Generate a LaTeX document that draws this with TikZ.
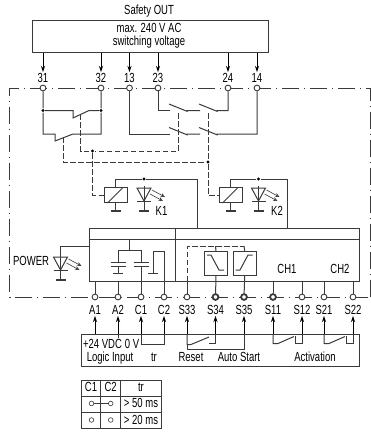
\documentclass[tikz,border=0pt]{standalone}
\usepackage{fontspec}
\setmainfont[FakeStretch=0.72]{Liberation Sans}
\usetikzlibrary{arrows.meta}
\definecolor{ink}{HTML}{3A3A3A}
\tikzset{
  base/.style={x=1pt,y=-1pt,line width=1pt,draw=ink,text=black,font=\fontsize{13.2}{14}\selectfont},
  term/.style={circle,draw=ink,fill=white,minimum size=5.8pt,inner sep=0pt,line width=0.9pt},
  termb/.style={term,line width=1.8pt,minimum size=5.8pt},
  jn/.style={circle,fill=black,inner sep=0pt,minimum size=3.4pt},
  lab/.style={inner sep=0pt,text height=9.5pt,text depth=0pt,outer sep=1pt},
  txt/.style={inner sep=0pt,text height=9.5pt,text depth=2pt},
  arr/.style={-{Stealth[length=6.5pt,width=4.2pt]},draw=black},
  dsh/.style={dash pattern=on 5.5pt off 2.5pt},
  encl/.style={dash pattern=on 17pt off 5pt on 1pt off 5pt,draw=ink},
  gnd/.style={line width=1.6pt},
  box/.style={draw=ink,inner sep=0pt,anchor=north west},
  led/.pic={
    \draw (-7,0) -- (7,0) -- (0,13) -- cycle;
    \draw (-7,13) -- (7,13);
    \draw (0,-2) -- (0,23);
    \draw[gnd] (-5,23) -- (5,23);
    \draw[line width=0.6pt,-{Stealth[open,length=4.5pt,width=4pt]}] (8,2) -- (21,9);
    \draw[line width=0.6pt,-{Stealth[open,length=4.5pt,width=4pt]}] (6,6) -- (19,13);
  }
}
\begin{document}
\begin{tikzpicture}[base]
\useasboundingbox (0,0) rectangle (371,432);
% enclosure
\draw[encl] (370,297) -- (370,88) -- (9.5,88) -- (9.5,297) -- cycle;
% top box
\node[box,minimum width=236pt,minimum height=31.5pt] (outbox) at (32,20) {};
\node[txt] (tsafe) at (149,11) {Safety OUT};
\node[txt] (tmax) at (149,29) {max. 240 V AC};
\node[txt] (tsw) at (149,42) {switching voltage};
% upper terminals
\foreach \n/\x in {31/43,32/101,13/129.5,23/158,24/228,14/257}{
  \node[term] (t\n) at (\x,88) {};
  \node[lab] (l\n) at (\x,78) {\n};
  \draw[arr] (outbox.south -| t\n) -- (l\n.north);
}
% left contacts
\node[jn] (j31) at (43,110.5) {};
\node[jn] (j32) at (101,110.5) {};
\coordinate (c1a) at (73,110.5);
\coordinate (c1b) at (73,118);
\coordinate (c1c) at (89,110.5);
\coordinate (c2a) at (55,134);
\coordinate (c2b) at (55,141);
\coordinate (c2c) at (73,134);
\coordinate (c31b) at (43,134);
\coordinate (c32b) at (101,134);
\draw (t31) -- (j31) -- (c31b) -- (c2a) -- (c2b) -- (c2c) -- (c32b) -- (j32) -- (t32);
\draw (j31) -- (c1a) -- (c1b) -- (c1c) -- (j32);
% right contacts
\foreach \top/\bot/\y in {23/24/110.5,13/14/134}{
  \draw (t\top) |- (170,\y);
  \draw (169,\y-6.5) -- (187,\y+0.8) -- (187,\y) -- (200,\y);
  \draw (199,\y-6.5) -- (217,\y+0.8) -- (217,\y) -| (t\bot);
}
% dashed actuators
\node[jn] (d1) at (92.5,151) {};
\node[jn] (d2) at (208,162) {};
\coordinate (a1) at (80.7,114);
\coordinate (a2) at (178,113);
\coordinate (a3) at (63,137);
\coordinate (a4) at (208,113);
\draw[dsh] (a1) |- (d1);
\draw[dsh] (a2) |- (d1);
\draw[dsh] (a3) |- (d2);
\draw[dsh] (a4) -- (d2);
% coils
\node[box,minimum width=23.5pt,minimum height=15pt] (k1) at (103.5,187) {};
\node[box,minimum width=23.5pt,minimum height=15pt] (k2) at (218.5,187) {};
\draw[dsh] (d1) |- (k1.west |- 0,195);
\draw[dsh] (d2) |- (k2.west |- 0,195);
\foreach \k in {k1,k2}{
  \draw (\k.south west) ++(4,0) -- ++(15,-15);
  \draw (\k.south) -- ++(0,8);
  \draw[gnd] (\k.south) ++(-5,8) -- ++(10,0);
}
% LEDs
\pic at (144,188) {led};
\pic at (258.5,188) {led};
\node[jn] (jk1) at (144,179) {};
\node[jn] (jk2) at (258.5,179) {};
\node[lab] (tk1) at (161.5,211) {K1};
\node[lab] (tk2) at (277,211) {K2};
% main block
\node[box,minimum width=270pt,minimum height=52.6pt] (main) at (89,228) {};
\coordinate (bar1) at (89,239);
\coordinate (bar2) at (359,239);
\draw (bar1) -- (bar2);
\coordinate (div1) at (175.5,228);
\coordinate (div2) at (175.5,280.6);
\draw (div1) -- (div2);
\draw (k1.north) |- (jk1) -- (197,179) -- (197,228);
\draw (k2.north) |- (jk2) -- (287,179) -- (287,228);
% POWER led
\pic at (60.5,257) {led};
\draw (89,246) -| (60.5,256);
\node[txt] (tpow) at (31,262) {POWER};
% capacitors
\coordinate (capt) at (129.5,250.5);
\draw (129.5,239) -- (capt);
\draw (118,263) -- (118,250.5) -- (141,250.5) -- (141,263);
\foreach \x in {118,141}{
  \draw (\x-7.5,262) -- (\x+7.5,262);
  \draw (\x-7.5,266) -- (\x+7.5,266);
}
\draw (118,266) -- (118,273.5);
\draw[gnd] (113,273.5) -- (123,273.5);
\draw (153,273.5) -- (153,251) -- (164,251) -- (164,280.6);
\draw[gnd] (148,273.5) -- (158,273.5);
% delay boxes
\node[box,minimum width=23pt,minimum height=23.5pt] (b1) at (204,251) {};
\node[box,minimum width=23.5pt,minimum height=23.5pt] (b2) at (232.5,251) {};
\draw (207,255) -- (211,255) -- (219,270) -- (224,270);
\draw (235.5,270) -- (240,270) -- (248,255) -- (252.5,255);
\draw[dsh] (187,281) -- (187,246) -- (244,246);
\draw (215.5,246) -- (b1.north);
\draw (244,246) -- (b2.north);
\node[txt] (tch1) at (287,270) {CH1};
\node[txt] (tch2) at (340,270) {CH2};
% lower terminals
\foreach \n/\x/\st in {A1/95/term,A2/118/term,C1/141/term,C2/164/term,S33/187/term,S34/215.5/termb,S35/244/termb,S11/273/termb,S12/302/term,S21/324/term,S22/353/term}{
  \node[\st] (t\n) at (\x,297) {};
  \node[lab] (l\n) at (\x,310) {\n};
  \draw[arr] (\x,334) -- (l\n.south);
}
\foreach \n in {A1,A2,C1,C2,S33,S11,S12,S21,S22}{
  \draw (t\n) -- (t\n |- main.south);
}
\draw (tC1) -- (tC1 |- 0,266);
\draw (tS34) -- (b1.south);
\draw (tS35) -- (b2.south);
% lower box
\node[box,minimum width=278pt,minimum height=31.5pt] (low) at (81,334) {};
\node[txt] (t24) at (102.5,345) {+24 VDC};
\node[txt] (t0v) at (132,345) {0 V};
\node[txt] (tlogic) at (110,358) {Logic Input};
\node[txt] (ttr) at (154,358) {tr};
\node[txt] (treset) at (191,358) {Reset};
\node[txt] (tauto) at (239,358) {Auto Start};
\node[txt] (tact) at (315,358) {Activation};
\draw (118,334) -- (118,338);
\draw (141,334) -- (141,344) -- (164,344) -- (164,334);
% reset, auto start
\draw (187,334) -- (187,344.5) -- (191,344.5) -- (209,337);
\draw (209,343) -- (215.5,343) -- (215.5,334);
\draw (187,344.5) -- (187,349) -- (244,349) -- (244,334);
% activation
\draw (273,334) -- (273,343.5) -- (278,343.5) -- (294,336.5);
\draw (295,336) -- (295,343.5) -- (302,343.5) -- (302,334);
\draw (324,334) -- (324,343.5) -- (329,343.5) -- (345,336.5);
\draw (346,336) -- (346,343.5) -- (353,343.5) -- (353,334);
% table
\draw (81,380) rectangle (161,428.5);
\draw (81,396) -- (161,396);
\draw (81,412.3) -- (161,412.3);
\draw (100.7,380) -- (100.7,428.5);
\draw (120.7,380) -- (120.7,428.5);
\node[txt] (h1) at (91,388) {C1};
\node[txt] (h2) at (110.7,388) {C2};
\node[txt] (h3) at (141,388) {tr};
\node[txt] (r1) at (141,404) {> 50 ms};
\node[txt] (r2) at (141,420.5) {> 20 ms};
\node[term,minimum size=4.6pt,line width=0.6pt] (p1) at (91.5,403.5) {};
\node[term,minimum size=4.6pt,line width=0.6pt] (p2) at (110.7,403.5) {};
\node[term,minimum size=4.6pt,line width=0.6pt] (p3) at (91.5,420) {};
\node[term,minimum size=4.6pt,line width=0.6pt] (p4) at (110.7,420) {};
\draw (p1) -- (p2);
\end{tikzpicture}
\end{document}
